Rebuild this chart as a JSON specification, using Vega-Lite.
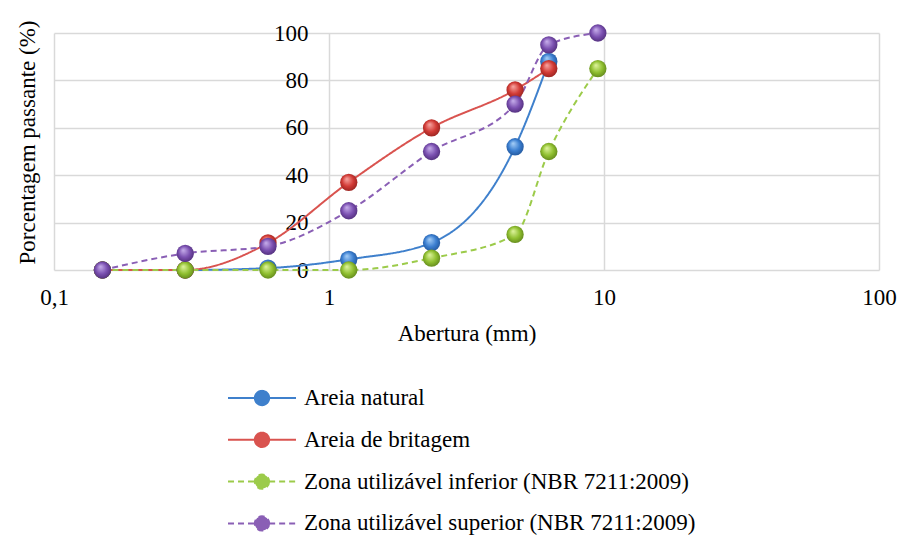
{
  "$schema": "https://vega.github.io/schema/vega-lite/v6.json",
  "width": 825,
  "height": 237,
  "autosize": "none",
  "padding": {"left": 54, "top": 33, "right": 22, "bottom": 267},
  "background": "white",
  "config": {
    "view": {"stroke": null},
    "font": "Times New Roman, Liberation Serif, DejaVu Serif, serif"
  },
  "data": {
    "values": [
      {"x": 0.15, "y": 0, "s": "Areia natural"},
      {"x": 0.3, "y": 0, "s": "Areia natural"},
      {"x": 0.6, "y": 0.8, "s": "Areia natural"},
      {"x": 1.18, "y": 4.5, "s": "Areia natural"},
      {"x": 2.36, "y": 11.5, "s": "Areia natural"},
      {"x": 4.75, "y": 52, "s": "Areia natural"},
      {"x": 6.3, "y": 88, "s": "Areia natural"},
      {"x": 0.15, "y": 0, "s": "Areia de britagem"},
      {"x": 0.3, "y": 0, "s": "Areia de britagem"},
      {"x": 0.6, "y": 11.4, "s": "Areia de britagem"},
      {"x": 1.18, "y": 37, "s": "Areia de britagem"},
      {"x": 2.36, "y": 60, "s": "Areia de britagem"},
      {"x": 4.75, "y": 76, "s": "Areia de britagem"},
      {"x": 6.3, "y": 85, "s": "Areia de britagem"},
      {"x": 0.15, "y": 0, "s": "Zona utilizável inferior (NBR 7211:2009)"},
      {"x": 0.3, "y": 0, "s": "Zona utilizável inferior (NBR 7211:2009)"},
      {"x": 0.6, "y": 0, "s": "Zona utilizável inferior (NBR 7211:2009)"},
      {"x": 1.18, "y": 0, "s": "Zona utilizável inferior (NBR 7211:2009)"},
      {"x": 2.36, "y": 5, "s": "Zona utilizável inferior (NBR 7211:2009)"},
      {"x": 4.75, "y": 15, "s": "Zona utilizável inferior (NBR 7211:2009)"},
      {"x": 6.3, "y": 50, "s": "Zona utilizável inferior (NBR 7211:2009)"},
      {"x": 9.5, "y": 85, "s": "Zona utilizável inferior (NBR 7211:2009)"},
      {"x": 0.15, "y": 0, "s": "Zona utilizável superior (NBR 7211:2009)"},
      {"x": 0.3, "y": 7, "s": "Zona utilizável superior (NBR 7211:2009)"},
      {"x": 0.6, "y": 10, "s": "Zona utilizável superior (NBR 7211:2009)"},
      {"x": 1.18, "y": 25, "s": "Zona utilizável superior (NBR 7211:2009)"},
      {"x": 2.36, "y": 50, "s": "Zona utilizável superior (NBR 7211:2009)"},
      {"x": 4.75, "y": 70, "s": "Zona utilizável superior (NBR 7211:2009)"},
      {"x": 6.3, "y": 95, "s": "Zona utilizável superior (NBR 7211:2009)"},
      {"x": 9.5, "y": 100, "s": "Zona utilizável superior (NBR 7211:2009)"}
    ]
  },
  "encoding": {
    "x": {
      "field": "x",
      "type": "quantitative",
      "scale": {"type": "log", "domain": [0.1, 100]},
      "axis": {
        "values": [0.1, 1, 10, 100],
        "format": "~g",
        "labelExpr": "replace(datum.label, '.', ',')",
        "grid": true,
        "gridColor": "#d9d9d9",
        "gridWidth": 1.5,
        "domain": false,
        "ticks": false,
        "labelFont": "Times New Roman, Liberation Serif, DejaVu Serif, serif",
        "labelFontSize": 23,
        "labelColor": "black",
        "labelPadding": 16,
        "labelFlush": false,
        "title": "Abertura (mm)",
        "titleFont": "Times New Roman, Liberation Serif, DejaVu Serif, serif",
        "titleFontSize": 23,
        "titleFontWeight": "normal",
        "titleColor": "black",
        "titleBaseline": "middle",
        "titleY": 63
      }
    },
    "y": {
      "field": "y",
      "type": "quantitative",
      "scale": {"domain": [0, 100], "nice": false},
      "axis": {
        "values": [0, 20, 40, 60, 80, 100],
        "offset": -275,
        "grid": true,
        "gridColor": "#d9d9d9",
        "gridWidth": 1.5,
        "domain": false,
        "ticks": false,
        "labelFont": "Times New Roman, Liberation Serif, DejaVu Serif, serif",
        "labelFontSize": 23,
        "labelColor": "black",
        "labelPadding": 21,
        "title": "Porcentagem passante (%)",
        "titleFont": "Times New Roman, Liberation Serif, DejaVu Serif, serif",
        "titleFontSize": 23,
        "titleFontWeight": "normal",
        "titleColor": "black",
        "titleAngle": 270,
        "titleAlign": "center",
        "titleBaseline": "middle",
        "titleX": -302,
        "titleY": 109
      }
    }
  },
  "layer": [
    {
      "mark": {"type": "line", "interpolate": "monotone", "strokeWidth": 2},
      "encoding": {
        "color": {
          "field": "s",
          "type": "nominal",
          "scale": {
            "domain": ["Areia natural", "Areia de britagem", "Zona utilizável inferior (NBR 7211:2009)", "Zona utilizável superior (NBR 7211:2009)"],
            "range": ["#3f80cc", "#d9534f", "#9ccb4a", "#8a5fb5"]
          },
          "legend": {
            "orient": "none",
            "legendX": 190,
            "legendY": 347,
            "direction": "vertical",
            "title": null,
            "padding": 0,
            "symbolType": "M-2,0L-0.42,0M0.42,0L2,0M0.42,0A0.42,0.42,0,1,1,-0.42,0A0.42,0.42,0,1,1,0.42,0Z",
            "symbolSize": 1156,
            "symbolStrokeWidth": 2,
            "symbolOpacity": 1,
            "labelFont": "Times New Roman, Liberation Serif, DejaVu Serif, serif",
            "labelFontSize": 23,
            "labelColor": "black",
            "labelOffset": 24,
            "labelLimit": 600,
            "rowPadding": 11.8,
            "encode": {"symbols": {"update": {"fill": {"scale": "color", "field": "value"}, "fillOpacity": {"value": 1}}}}
          }
        },
        "strokeDash": {
          "field": "s",
          "type": "nominal",
          "scale": {
            "domain": ["Areia natural", "Areia de britagem", "Zona utilizável inferior (NBR 7211:2009)", "Zona utilizável superior (NBR 7211:2009)"],
            "range": [[1, 0], [1, 0], [6, 4], [6, 4]]
          },
          "legend": {
            "orient": "none",
            "legendX": 190,
            "legendY": 347,
            "direction": "vertical",
            "title": null,
            "padding": 0,
            "symbolType": "M-2,0L-0.42,0M0.42,0L2,0M0.42,0A0.42,0.42,0,1,1,-0.42,0A0.42,0.42,0,1,1,0.42,0Z",
            "symbolSize": 1156,
            "symbolStrokeWidth": 2,
            "symbolOpacity": 1,
            "labelFont": "Times New Roman, Liberation Serif, DejaVu Serif, serif",
            "labelFontSize": 23,
            "labelColor": "black",
            "labelOffset": 24,
            "labelLimit": 600,
            "rowPadding": 11.8,
            "encode": {"symbols": {"update": {"fill": {"scale": "color", "field": "value"}, "fillOpacity": {"value": 1}}}}
          }
        }
      }
    },
    {
      "transform": [{"filter": "datum.s == 'Areia natural'"}],
      "mark": {"type": "point", "filled": true, "size": 300, "opacity": 1,
        "fill": {"gradient": "radial", "x1": 0.38, "y1": 0.3, "r1": 0, "x2": 0.5, "y2": 0.5, "r2": 0.6,
          "stops": [{"offset": 0, "color": "#a8d0f8"}, {"offset": 0.55, "color": "#3a7ed0"}, {"offset": 1, "color": "#1f4f90"}]}}
    },
    {
      "transform": [{"filter": "datum.s == 'Areia de britagem'"}],
      "mark": {"type": "point", "filled": true, "size": 300, "opacity": 1,
        "fill": {"gradient": "radial", "x1": 0.38, "y1": 0.3, "r1": 0, "x2": 0.5, "y2": 0.5, "r2": 0.6,
          "stops": [{"offset": 0, "color": "#f8a8a4"}, {"offset": 0.55, "color": "#d23a35"}, {"offset": 1, "color": "#8a1f1c"}]}}
    },
    {
      "transform": [{"filter": "datum.s == 'Zona utilizável inferior (NBR 7211:2009)'"}],
      "mark": {"type": "point", "filled": true, "size": 300, "opacity": 1,
        "fill": {"gradient": "radial", "x1": 0.38, "y1": 0.3, "r1": 0, "x2": 0.5, "y2": 0.5, "r2": 0.6,
          "stops": [{"offset": 0, "color": "#e0f5a0"}, {"offset": 0.55, "color": "#8fbf2f"}, {"offset": 1, "color": "#577a18"}]}}
    },
    {
      "transform": [{"filter": "datum.s == 'Zona utilizável superior (NBR 7211:2009)'"}],
      "mark": {"type": "point", "filled": true, "size": 300, "opacity": 1,
        "fill": {"gradient": "radial", "x1": 0.38, "y1": 0.3, "r1": 0, "x2": 0.5, "y2": 0.5, "r2": 0.6,
          "stops": [{"offset": 0, "color": "#c8b0ec"}, {"offset": 0.55, "color": "#7a4fb0"}, {"offset": 1, "color": "#48286f"}]}}
    }
  ]
}
